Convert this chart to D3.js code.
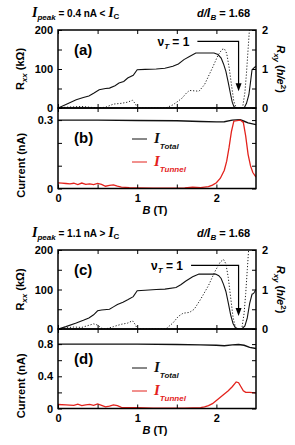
<!DOCTYPE html>
<html>
<head>
<meta charset="utf-8">
<script src="https://cdn.jsdelivr.net/npm/d3@7"></script>
<style>
body { margin: 0; background: #fff; }
text { font-family: 'Liberation Sans', Arial, sans-serif; font-weight: bold; }
.serif { font-family: 'Liberation Serif', 'Times New Roman', serif; font-style: italic; }
</style>
</head>
<body>
<script>
// ---- data ----
// panel (a): Ipeak = 0.4 nA
const aRxxB = [0, 0.1, 0.23, 0.32, 0.39, 0.45, 0.52, 0.6, 0.65, 0.72, 0.77, 0.83, 0.88, 0.95, 1.0, 1.1, 1.24, 1.35, 1.45, 1.52, 1.59, 1.66, 1.74, 1.85, 1.97, 2.02, 2.06, 2.09, 2.12, 2.15, 2.18, 2.2, 2.22, 2.25, 2.35, 2.38, 2.41, 2.43, 2.45, 2.48, 2.5];
const aRxx  = [0, 9, 21, 27, 31, 38, 47, 50, 51, 57, 64, 68, 77, 84, 98, 99, 100, 102, 107, 113, 124, 132, 141, 141, 141, 137, 128, 113, 94, 65, 34, 15, 4, 0, 0, 12, 34, 65, 98, 104, 107];
const aRxyB = [0, 0.1, 0.2, 0.3, 0.4, 0.5, 0.6, 0.7, 0.8, 0.88, 0.94, 0.98, 1.0, 1.2, 1.36, 1.45, 1.52, 1.57, 1.62, 1.66, 1.72, 1.78, 1.85, 1.95, 2.02, 2.07, 2.1, 2.13, 2.16, 2.19, 2.22, 2.25, 2.33, 2.36, 2.38, 2.4, 2.42, 2.44];
const aRxy  = [0, 0.02, 0.03, 0.04, 0.02, 0.0, 0.02, 0.1, 0.12, 0.15, 0.2, 0.1, 0.0, 0.0, 0.0, 0.08, 0.18, 0.26, 0.38, 0.45, 0.44, 0.43, 0.6, 1.03, 1.35, 1.5, 1.52, 1.4, 1.05, 0.6, 0.17, 0.0, 0.0, 0.4, 0.9, 1.5, 2.1, 2.6];

// panel (b)
const bTotB = [0, 0.5, 1.0, 1.5, 1.8, 2.0, 2.1, 2.2, 2.3, 2.35, 2.4, 2.5];
const bTot  = [0.30, 0.30, 0.298, 0.297, 0.294, 0.292, 0.293, 0.3, 0.302, 0.295, 0.288, 0.28];
const bTunB = [0, 0.05, 0.1, 0.15, 0.2, 0.25, 0.3, 0.35, 0.4, 0.45, 0.5, 0.55, 0.6, 0.65, 0.7, 0.75, 0.8, 0.9, 1.0, 1.2, 1.4, 1.6, 1.7, 1.8, 1.9, 1.95, 2.0, 2.05, 2.1, 2.13, 2.16, 2.19, 2.22, 2.3, 2.34, 2.37, 2.4, 2.43, 2.46, 2.5];
const bTun  = [0.025, 0.024, 0.022, 0.02, 0.023, 0.017, 0.024, 0.018, 0.02, 0.017, 0.022, 0.018, 0.01, 0.014, 0.016, 0.01, 0.006, 0.004, 0.003, 0.002, 0.002, 0.003, 0.006, 0.004, 0.008, 0.015, 0.025, 0.045, 0.08, 0.12, 0.18, 0.25, 0.295, 0.3, 0.29, 0.23, 0.15, 0.1, 0.07, 0.05];

// panel (c): Ipeak = 1.1 nA
const cRxxB = [0, 0.1, 0.23, 0.32, 0.39, 0.45, 0.5, 0.55, 0.65, 0.7, 0.75, 0.82, 0.88, 0.95, 1.0, 1.1, 1.24, 1.35, 1.49, 1.55, 1.61, 1.7, 1.78, 1.9, 1.99, 2.03, 2.06, 2.09, 2.12, 2.15, 2.18, 2.21, 2.24, 2.28, 2.32, 2.36, 2.39, 2.42, 2.45, 2.47, 2.5];
const cRxx  = [0, 6, 15, 22, 28, 36, 46, 48, 50, 56, 62, 68, 74, 82, 97, 98, 100, 101, 105, 112, 121, 132, 139, 139, 139, 135, 128, 113, 95, 66, 36, 14, 3, 0, 0, 8, 28, 65, 88, 90, 100];
const cRxyB = [0, 0.1, 0.2, 0.3, 0.4, 0.45, 0.5, 0.55, 0.6, 0.7, 0.8, 0.88, 0.94, 0.98, 1.0, 1.2, 1.36, 1.45, 1.52, 1.58, 1.66, 1.72, 1.8, 1.9, 1.98, 2.05, 2.09, 2.12, 2.15, 2.18, 2.21, 2.24, 2.27, 2.32, 2.35, 2.37, 2.39, 2.41, 2.43];
const cRxy  = [0, 0.03, 0.05, 0.04, 0.1, 0.13, 0.1, 0.02, 0.0, 0.06, 0.12, 0.15, 0.21, 0.1, 0.0, 0.0, 0.0, 0.15, 0.32, 0.4, 0.42, 0.5, 0.75, 1.1, 1.45, 1.7, 1.76, 1.65, 1.3, 0.8, 0.3, 0.05, 0.0, 0.0, 0.4, 0.9, 1.5, 2.1, 2.6];

// panel (d)
const dTotB = [0, 0.5, 1.0, 1.5, 1.8, 2.0, 2.1, 2.2, 2.28, 2.35, 2.42, 2.5];
const dTot  = [0.8, 0.8, 0.8, 0.795, 0.79, 0.785, 0.78, 0.79, 0.795, 0.785, 0.76, 0.745];
const dTunB = [0, 0.1, 0.2, 0.25, 0.3, 0.35, 0.4, 0.45, 0.5, 0.55, 0.6, 0.65, 0.7, 0.75, 0.8, 0.9, 1.0, 1.2, 1.4, 1.6, 1.8, 1.85, 1.9, 1.95, 2.0, 2.05, 2.1, 2.15, 2.2, 2.25, 2.28, 2.31, 2.34, 2.37, 2.42, 2.5];
const dTun  = [0.05, 0.045, 0.04, 0.055, 0.035, 0.045, 0.05, 0.04, 0.058, 0.04, 0.02, 0.03, 0.045, 0.035, 0.015, 0.01, 0.012, 0.005, 0.005, 0.005, 0.01, 0.02, 0.035, 0.06, 0.1, 0.14, 0.18, 0.22, 0.27, 0.33, 0.32, 0.27, 0.22, 0.2, 0.2, 0.195];

// axis ticks
const bTicks = [0, 0.5, 1, 1.5, 2];
const bLabels = [0, 1, 2];
const rxxTicks = [0, 50, 100, 150, 200];
const rxxLabels = [0, 100, 200];
const rxyTicks = [0, 0.5, 1, 1.5, 2];
const rxyLabels = [0, 1, 2];
const curBTicks = [0, 0.1, 0.2, 0.3];
const curBLabels = [0, 0.3];
const curDTicks = [0, 0.2, 0.4, 0.6, 0.8];
const curDLabels = [0, 0.4, 0.8];

// header texts
const headers = [
    {top: 17, peak: '0.4', rel: '<'},
    {top: 237, peak: '1.1', rel: '>'}
];

const red = '#e3221c';
const xL = 58, xR = 256;

const svg = d3.select('body')
    .append('svg')
    .attr('width', 295)
    .attr('height', 445);

const x = d3.scaleLinear().domain([0, 2.5]).range([xL, xR]);

const zip = (bs, vs) => bs.map((b, i) => [b, vs[i]]);

let clipN = 0;
function clip(top, bot) {
    const id = 'clip' + (clipN++);
    svg.append('clipPath').attr('id', id)
        .append('rect').attr('x', xL).attr('y', top).attr('width', xR - xL).attr('height', bot - top);
    return 'url(#' + id + ')';
}

function styleAxis(g) {
    g.select('.domain').remove();
    g.selectAll('line').attr('stroke', '#000').attr('stroke-width', 1);
    g.selectAll('text').attr('font-size', 11).attr('fill', '#000');
}

function lbl(list) {
    return d => list.includes(d) ? d3.format('~g')(d) : '';
}

function frame(top, bot) {
    svg.append('rect')
        .attr('x', xL).attr('y', top)
        .attr('width', xR - xL).attr('height', bot - top)
        .attr('fill', 'none').attr('stroke', '#000').attr('stroke-width', 1.5);
}

function xAxes(top, bot, labelled) {
    svg.append('g').attr('transform', `translate(0,${top})`)
        .call(d3.axisTop(x).tickValues(bTicks).tickSizeInner(-4).tickSizeOuter(0).tickFormat(''))
        .call(styleAxis);
    svg.append('g').attr('transform', `translate(0,${bot})`)
        .call(d3.axisBottom(x).tickValues(bTicks).tickSizeInner(-4).tickSizeOuter(0)
            .tickPadding(6).tickFormat(labelled ? lbl(bLabels) : () => ''))
        .call(styleAxis);
    if (labelled) {
        const t = svg.append('text')
            .attr('x', 155).attr('y', bot + 25)
            .attr('text-anchor', 'middle').attr('font-size', 11);
        t.append('tspan').attr('font-style', 'italic').text('B');
        t.append('tspan').text(' (T)');
    }
}

function rPanel(top, bot, name, rxxB, rxx, rxyB, rxy, hdr, arrow) {
    const y = d3.scaleLinear().domain([0, 200]).range([bot, top]);
    const y2 = d3.scaleLinear().domain([0, 2]).range([bot, top]);
    const cp = clip(top, bot);

    svg.append('path')
        .datum(zip(rxyB, rxy))
        .attr('clip-path', cp)
        .attr('fill', 'none').attr('stroke', '#222').attr('stroke-width', 1)
        .attr('stroke-dasharray', '1.2,1.8')
        .attr('d', d3.line().x(d => x(d[0])).y(d => y2(d[1])));

    svg.append('path')
        .datum(zip(rxxB, rxx))
        .attr('clip-path', cp)
        .attr('fill', 'none').attr('stroke', '#111').attr('stroke-width', 1.1)
        .attr('d', d3.line().x(d => x(d[0])).y(d => y(d[1])));

    svg.append('g').attr('transform', `translate(${xL},0)`)
        .call(d3.axisLeft(y).tickValues(rxxTicks).tickSizeInner(-4).tickSizeOuter(0).tickPadding(5).tickFormat(lbl(rxxLabels)))
        .call(styleAxis);
    svg.append('g').attr('transform', `translate(${xR},0)`)
        .call(d3.axisRight(y2).tickValues(rxyTicks).tickSizeInner(-4).tickSizeOuter(0).tickPadding(6).tickFormat(lbl(rxyLabels)))
        .call(styleAxis);
    xAxes(top, bot, false);

    // arrow nu_T = 1
    const ax = x(arrow.b);
    svg.append('path')
        .attr('d', `M${x(arrow.b0)},${y(arrow.r0)}H${ax}V${y(arrow.r1) - 7}`)
        .attr('fill', 'none').attr('stroke', '#000').attr('stroke-width', 1.2);
    svg.append('path')
        .attr('d', `M${ax - 3},${y(arrow.r1) - 8}L${ax + 3},${y(arrow.r1) - 8}L${ax},${y(arrow.r1)}Z`)
        .attr('fill', '#000');
    const nu = svg.append('text')
        .attr('x', x(arrow.b0) - 8).attr('y', y(arrow.r0) + 5)
        .attr('text-anchor', 'end').attr('font-size', 12);
    nu.append('tspan').text('ν');
    nu.append('tspan').attr('font-size', 8).attr('font-style', 'italic').attr('dy', 3).text('T');
    nu.append('tspan').attr('dy', -3).text(' = 1');

    svg.append('text')
        .attr('x', 74).attr('y', top + 25)
        .attr('font-size', 15).text(name);

    // axis titles
    const lt = svg.append('text')
        .attr('transform', `translate(24,${(top + bot) / 2}) rotate(-90)`)
        .attr('text-anchor', 'middle').attr('font-size', 11);
    lt.append('tspan').text('R');
    lt.append('tspan').attr('font-size', 8).attr('font-style', 'italic').attr('dy', 3).text('xx');
    lt.append('tspan').attr('dy', -3).text(' (kΩ)');

    const rt = svg.append('text')
        .attr('transform', `translate(277,${(top + bot) / 2}) rotate(90)`)
        .attr('text-anchor', 'middle').attr('font-size', 11);
    rt.append('tspan').attr('font-style', 'italic').text('R');
    rt.append('tspan').attr('font-size', 8).attr('font-style', 'italic').attr('dy', 3).text('xy');
    rt.append('tspan').attr('dy', -3).text(' (');
    rt.append('tspan').attr('font-style', 'italic').text('h/e');
    rt.append('tspan').attr('font-size', 8).attr('dy', -4).text('2');
    rt.append('tspan').attr('dy', 4).text(')');

    // header line
    const h = svg.append('text').attr('x', 32).attr('y', hdr.top).attr('font-size', 10);
    h.append('tspan').attr('class', 'serif').attr('font-size', 14).text('I');
    h.append('tspan').attr('font-size', 8).attr('font-style', 'italic').attr('dy', 3).text('peak');
    h.append('tspan').attr('dy', -3).text(` = ${hdr.peak} nA ${hdr.rel} `);
    h.append('tspan').attr('class', 'serif').attr('font-size', 14).text('I');
    h.append('tspan').attr('font-size', 8).attr('dy', 2).text('C');

    const h2 = svg.append('text').attr('x', 197).attr('y', hdr.top).attr('font-size', 11);
    h2.append('tspan').attr('font-style', 'italic').text('d/');
    h2.append('tspan').attr('class', 'serif').attr('font-size', 13).text('l');
    h2.append('tspan').attr('font-size', 8).attr('font-style', 'italic').attr('dy', 3).text('B');
    h2.append('tspan').attr('dy', -3).text(' = 1.68');

    frame(top, bot);
}

function iPanel(top, bot, name, yMax, ticks, labels, totB, tot, tunB, tun, legY) {
    const y = d3.scaleLinear().domain([0, yMax]).range([bot, top]);
    const cp = clip(top, bot);

    svg.append('path')
        .datum(zip(totB, tot))
        .attr('clip-path', cp)
        .attr('fill', 'none').attr('stroke', '#111').attr('stroke-width', 1.4)
        .attr('d', d3.line().x(d => x(d[0])).y(d => y(d[1])));
    svg.append('path')
        .datum(zip(tunB, tun))
        .attr('clip-path', cp)
        .attr('fill', 'none').attr('stroke', red).attr('stroke-width', 1.3)
        .attr('d', d3.line().x(d => x(d[0])).y(d => y(d[1])));

    svg.append('g').attr('transform', `translate(${xL},0)`)
        .call(d3.axisLeft(y).tickValues(ticks).tickSizeInner(-4).tickSizeOuter(0).tickPadding(5).tickFormat(lbl(labels)))
        .call(styleAxis);
    svg.append('g').attr('transform', `translate(${xR},0)`)
        .call(d3.axisRight(y).tickValues(ticks).tickSizeInner(-4).tickSizeOuter(0).tickFormat(''))
        .call(styleAxis);
    xAxes(top, bot, true);

    svg.append('text')
        .attr('x', 74).attr('y', top + 35)
        .attr('font-size', 15).text(name);

    // legend
    const items = [['Total', '#111', legY], ['Tunnel', red, legY + 23]];
    items.forEach(([s, c, ly]) => {
        svg.append('line')
            .attr('x1', 132).attr('x2', 147).attr('y1', ly).attr('y2', ly)
            .attr('stroke', c).attr('stroke-width', 1);
        const t = svg.append('text').attr('x', 154).attr('y', ly + 4).attr('fill', c);
        t.append('tspan').attr('class', 'serif').attr('font-size', 15).text('I');
        t.append('tspan').attr('font-size', 8).attr('font-style', 'italic').attr('dy', 6).text(s);
    });

    svg.append('text')
        .attr('transform', `translate(25,${(top + bot) / 2 + 17}) rotate(-90)`)
        .attr('text-anchor', 'middle').attr('font-size', 11)
        .text('Current (nA)');

    frame(top, bot);
}

rPanel(30, 108, '(a)', aRxxB, aRxx, aRxyB, aRxy, headers[0], {b0: 1.76, r0: 171, b: 2.28, r1: 43});
iPanel(108, 188.5, '(b)', 0.353, curBTicks, curBLabels, bTotB, bTot, bTunB, bTun, 139);
rPanel(250, 329, '(c)', cRxxB, cRxx, cRxyB, cRxy, headers[1], {b0: 1.68, r0: 161, b: 2.28, r1: 33});
iPanel(329, 408.5, '(d)', 0.9875, curDTicks, curDLabels, dTotB, dTot, dTunB, dTun, 368);
</script>
</body>
</html>
